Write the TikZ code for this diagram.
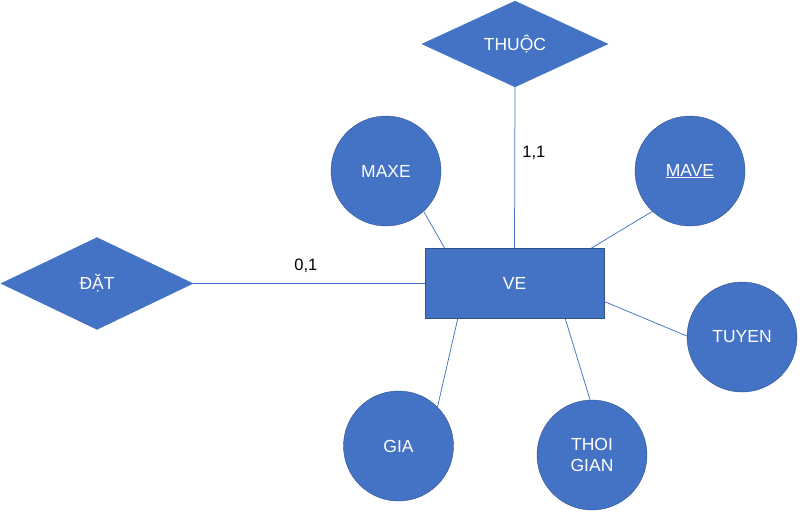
\documentclass[tikz,border=0pt]{standalone}
\usepackage{fontspec}
\setmainfont{Liberation Sans}
\usetikzlibrary{shapes.geometric}
\definecolor{boxblue}{HTML}{4472C4}
\definecolor{edgeblue}{HTML}{2F528F}
\begin{document}
\begin{tikzpicture}[x=1pt,y=-1pt]
    \tikzstyle{entity}=[rectangle,fill=boxblue,draw=edgeblue,line width=0.6pt,minimum width=179pt,minimum height=70pt,inner sep=0pt,text=white,font=\fontsize{17.5}{21}\selectfont]
    \tikzstyle{attrib}=[circle,fill=boxblue,draw=edgeblue,line width=0.4pt,minimum size=110pt,inner sep=0pt,text=white,align=center,font=\fontsize{17.5}{21}\selectfont]
    \tikzstyle{relation}=[diamond,fill=boxblue,draw=boxblue,inner sep=0pt,text=white,font=\fontsize{17.5}{21}\selectfont]
    \tikzstyle{links}=[draw=boxblue,line width=0.75pt]
    \tikzstyle{card}=[text=black,font=\fontsize{16.5}{20}\selectfont]
    \useasboundingbox (0,0) rectangle (807,517);

    \node[entity] (ve) at (514.5,283.5) {VE};
    \node[relation,minimum width=186pt,minimum height=86pt] (thuoc) at (515,44) {THUỘC};
    \node[relation,minimum width=192pt,minimum height=92pt] (dat) at (97,283.5) {ĐẶT};
    \node[attrib] (maxe) at (386,171) {MAXE};
    \node[attrib] (mave) at (690,171) {\underline{MAVE}};
    \node[attrib] (tuyen) at (742,337) {TUYEN};
    \node[attrib] (gia) at (398.5,446) {GIA};
    \node[attrib] (thoigian) at (592,455) {THOI\\GIAN};

    \draw[links] (thuoc.south) -- node[card,right,xshift=4pt,yshift=15pt]{1,1} (ve.north);
    \draw[links] (dat.east) -- node[card,above,xshift=-3pt,yshift=7pt]{0,1} (ve.west);
    \draw[links] (maxe.-47) -- ([xshift=20pt]ve.north west);
    \draw[links] (mave.-133) -- ([xshift=-13pt]ve.north east);
    \draw[links] (tuyen.179) -- ([yshift=-18pt]ve.east);
    \draw[links] (gia.45) -- ([xshift=33pt]ve.south west);
    \draw[links] (thoigian.92) -- ([xshift=-39pt]ve.south east);
\end{tikzpicture}
\end{document}
